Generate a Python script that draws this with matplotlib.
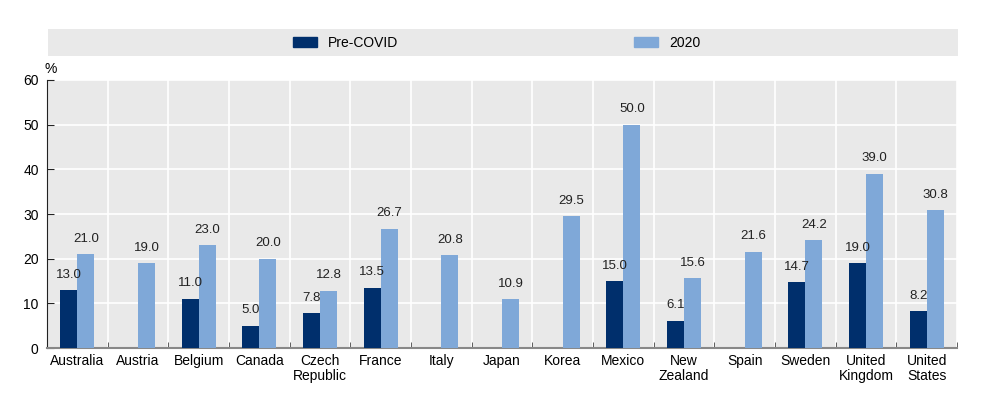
import numpy as np
import matplotlib.pyplot as plt
from matplotlib.patches import Patch

countries = ["Australia", "Austria", "Belgium", "Canada", "Czech\nRepublic", "France", "Italy",
             "Japan", "Korea", "Mexico", "New\nZealand", "Spain", "Sweden", "United\nKingdom",
             "United\nStates"]
pre_covid = [13.0, None, 11.0, 5.0, 7.8, 13.5, None, None, None, 15.0, 6.1, None, 14.7, 19.0, 8.2]
y2020 = [21.0, 19.0, 23.0, 20.0, 12.8, 26.7, 20.8, 10.9, 29.5, 50.0, 15.6, 21.6, 24.2, 39.0, 30.8]

DARK = "#002f6c"
LIGHT = "#7fa8d8"
BG = "#e9e9e9"

plt.rcParams["font.family"] = ["Liberation Sans", "DejaVu Sans"]
plt.rcParams["font.size"] = 10

fig = plt.figure(figsize=(9.83, 3.98), dpi=100)
ax = fig.add_axes([0.0478, 0.1256, 0.9258, 0.6734])
ax.set_facecolor(BG)

x = np.arange(len(countries))
w = 0.28
for i in range(len(countries)):
    if pre_covid[i] is not None:
        ax.bar(x[i] - w / 2, pre_covid[i], w, color=DARK, zorder=3)
        ax.text(x[i] - w / 2, pre_covid[i] + 2.1, f"{pre_covid[i]:.1f}", ha="center", va="bottom",
                fontsize=9.5, color="#222222", zorder=4)
    ax.bar(x[i] + w / 2, y2020[i], w, color=LIGHT, zorder=3)
    ax.text(x[i] + w / 2, y2020[i] + 2.1, f"{y2020[i]:.1f}", ha="center", va="bottom",
            fontsize=9.5, color="#222222", zorder=4)

ax.set_xlim(-0.5, len(countries) - 0.5)
ax.set_ylim(0, 60)
ax.set_yticks(range(0, 61, 10))
ax.set_xticks(x)
ax.set_xticklabels(countries, fontsize=10, linespacing=1.1)
ax.tick_params(axis="x", length=0, pad=4)
ax.set_xticks(np.arange(-0.5, len(countries), 1), minor=True)
ax.tick_params(axis="x", which="minor", direction="in", length=4, color="#444444")
ax.tick_params(axis="y", direction="in", length=5, pad=6, labelsize=10, color="#222222")

ax.grid(axis="y", color="white", linewidth=1.2, zorder=0)
ax.grid(axis="x", which="minor", color="white", linewidth=1.2, zorder=0)
ax.set_axisbelow(True)
for s in ["top", "right"]:
    ax.spines[s].set_visible(False)
ax.spines["left"].set_color("#222222")
ax.spines["bottom"].set_color("#888888")
ax.spines["bottom"].set_linewidth(1.5)

ax.text(0.004, 1.015, "%", transform=ax.transAxes, ha="center", va="bottom", fontsize=10)

# legend band
lax = fig.add_axes([0.0488, 0.859, 0.9258, 0.068])
lax.set_facecolor(BG)
lax.set_xticks([])
lax.set_yticks([])
for s in lax.spines.values():
    s.set_visible(False)
handles = [Patch(color=DARK, label="Pre-COVID"), Patch(color=LIGHT, label="2020")]
lax.legend(handles=handles, ncol=2, loc="center", bbox_to_anchor=(0.493, 0.5), frameon=False,
           handlelength=1.7, handleheight=0.7, columnspacing=17.0, fontsize=10)

fig.savefig("out.png", dpi=100)
